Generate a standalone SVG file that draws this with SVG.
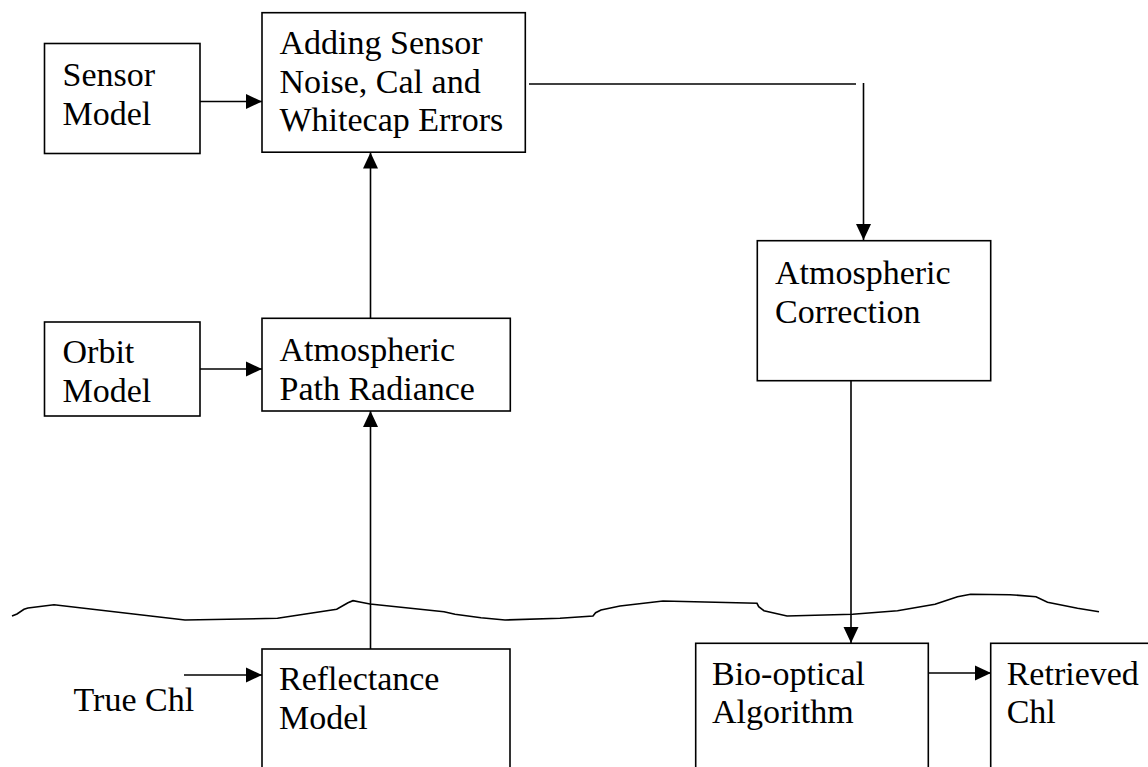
<svg xmlns="http://www.w3.org/2000/svg" width="1148" height="767" viewBox="0 0 1148 767">
<defs>
<style>
.box{fill:#fff;stroke:#000;stroke-width:1.6}
.ln{fill:none;stroke:#000;stroke-width:1.6}
.t{font-family:"Liberation Serif","Times New Roman",serif;font-size:34px;fill:#000}
</style>
<marker id="ah" viewBox="0 0 16 16" refX="16" refY="8" markerWidth="16" markerHeight="16" markerUnits="userSpaceOnUse" orient="auto">
<path d="M0,0.5 L16,8 L0,15.5 Z" fill="#000"/>
</marker>
</defs>
<rect width="1148" height="767" fill="#fff"/>
<g id="connectors">
<line class="ln" x1="200" y1="101.5" x2="262" y2="101.5" marker-end="url(#ah)"/>
<line class="ln" x1="200" y1="369" x2="262" y2="369" marker-end="url(#ah)"/>
<line class="ln" x1="370.5" y1="318" x2="370.5" y2="152.5" marker-end="url(#ah)"/>
<line class="ln" x1="370.5" y1="649" x2="370.5" y2="411" marker-end="url(#ah)"/>
<line class="ln" x1="529" y1="84" x2="856" y2="84"/>
<line class="ln" x1="863.5" y1="83" x2="863.5" y2="240" marker-end="url(#ah)"/>
<line class="ln" x1="851" y1="381" x2="851" y2="643" marker-end="url(#ah)"/>
<line class="ln" x1="184" y1="675" x2="262" y2="675" marker-end="url(#ah)"/>
<line class="ln" x1="928" y1="673" x2="991" y2="673" marker-end="url(#ah)"/>
</g>
<g id="surface">
<path class="ln" d="M12,616 L17,614 L24,609.3 L28,608 L54,604.7 L185,620 L277.5,618.3 L336.7,609.3 L348,602.7 L353,600.7 L361,602.3 L370,604 L444,611.7 L455,614.3 L481,617.7 L505,620 L560,618.3 L593,616 L595.6,612.7 L601,610 L620,606 L663,601 L757,603.3 L758.7,606.7 L764,610.7 L787,616 L852.5,614.3 L897.5,610.7 L935,604.3 L942.5,601.7 L957.5,596.7 L970.6,594.3 L1010,594.7 L1036,596.7 L1047.5,602.3 L1077.5,608.3 L1099,611.7"/>
</g>
<g id="sensor-model">
<rect class="box" x="44.5" y="43.5" width="155.5" height="110"/>
<text class="t" x="62.5" y="86">Sensor</text>
<text class="t" x="62.5" y="124.5">Model</text>
</g>
<g id="adding-errors">
<rect class="box" x="262" y="12.7" width="263.3" height="139.5"/>
<text class="t" x="279.5" y="54">Adding Sensor</text>
<text class="t" x="279.5" y="92.5">Noise, Cal and</text>
<text class="t" x="279.5" y="131">Whitecap Errors</text>
</g>
<g id="orbit-model">
<rect class="box" x="44.5" y="322" width="155.5" height="94"/>
<text class="t" x="62.5" y="363">Orbit</text>
<text class="t" x="62.5" y="401.5">Model</text>
</g>
<g id="path-radiance">
<rect class="box" x="262" y="318.3" width="248.3" height="92.7"/>
<text class="t" x="279.5" y="361">Atmospheric</text>
<text class="t" x="279.5" y="399.5">Path Radiance</text>
</g>
<g id="atm-correction">
<rect class="box" x="757.3" y="240.7" width="233.4" height="140"/>
<text class="t" x="775" y="283.5">Atmospheric</text>
<text class="t" x="775" y="322.5">Correction</text>
</g>
<g id="true-chl">
<text class="t" x="73.5" y="711">True Chl</text>
</g>
<g id="reflectance-model">
<rect class="box" x="262" y="649" width="248" height="130"/>
<text class="t" x="279" y="690">Reflectance</text>
<text class="t" x="279" y="729">Model</text>
</g>
<g id="bio-optical">
<rect class="box" x="695.7" y="643.3" width="232.6" height="135"/>
<text class="t" x="712" y="685">Bio-optical</text>
<text class="t" x="712" y="723">Algorithm</text>
</g>
<g id="retrieved-chl">
<rect class="box" x="990.7" y="643.3" width="170" height="135"/>
<text class="t" x="1006.7" y="685">Retrieved</text>
<text class="t" x="1006.7" y="723">Chl</text>
</g>
</svg>
